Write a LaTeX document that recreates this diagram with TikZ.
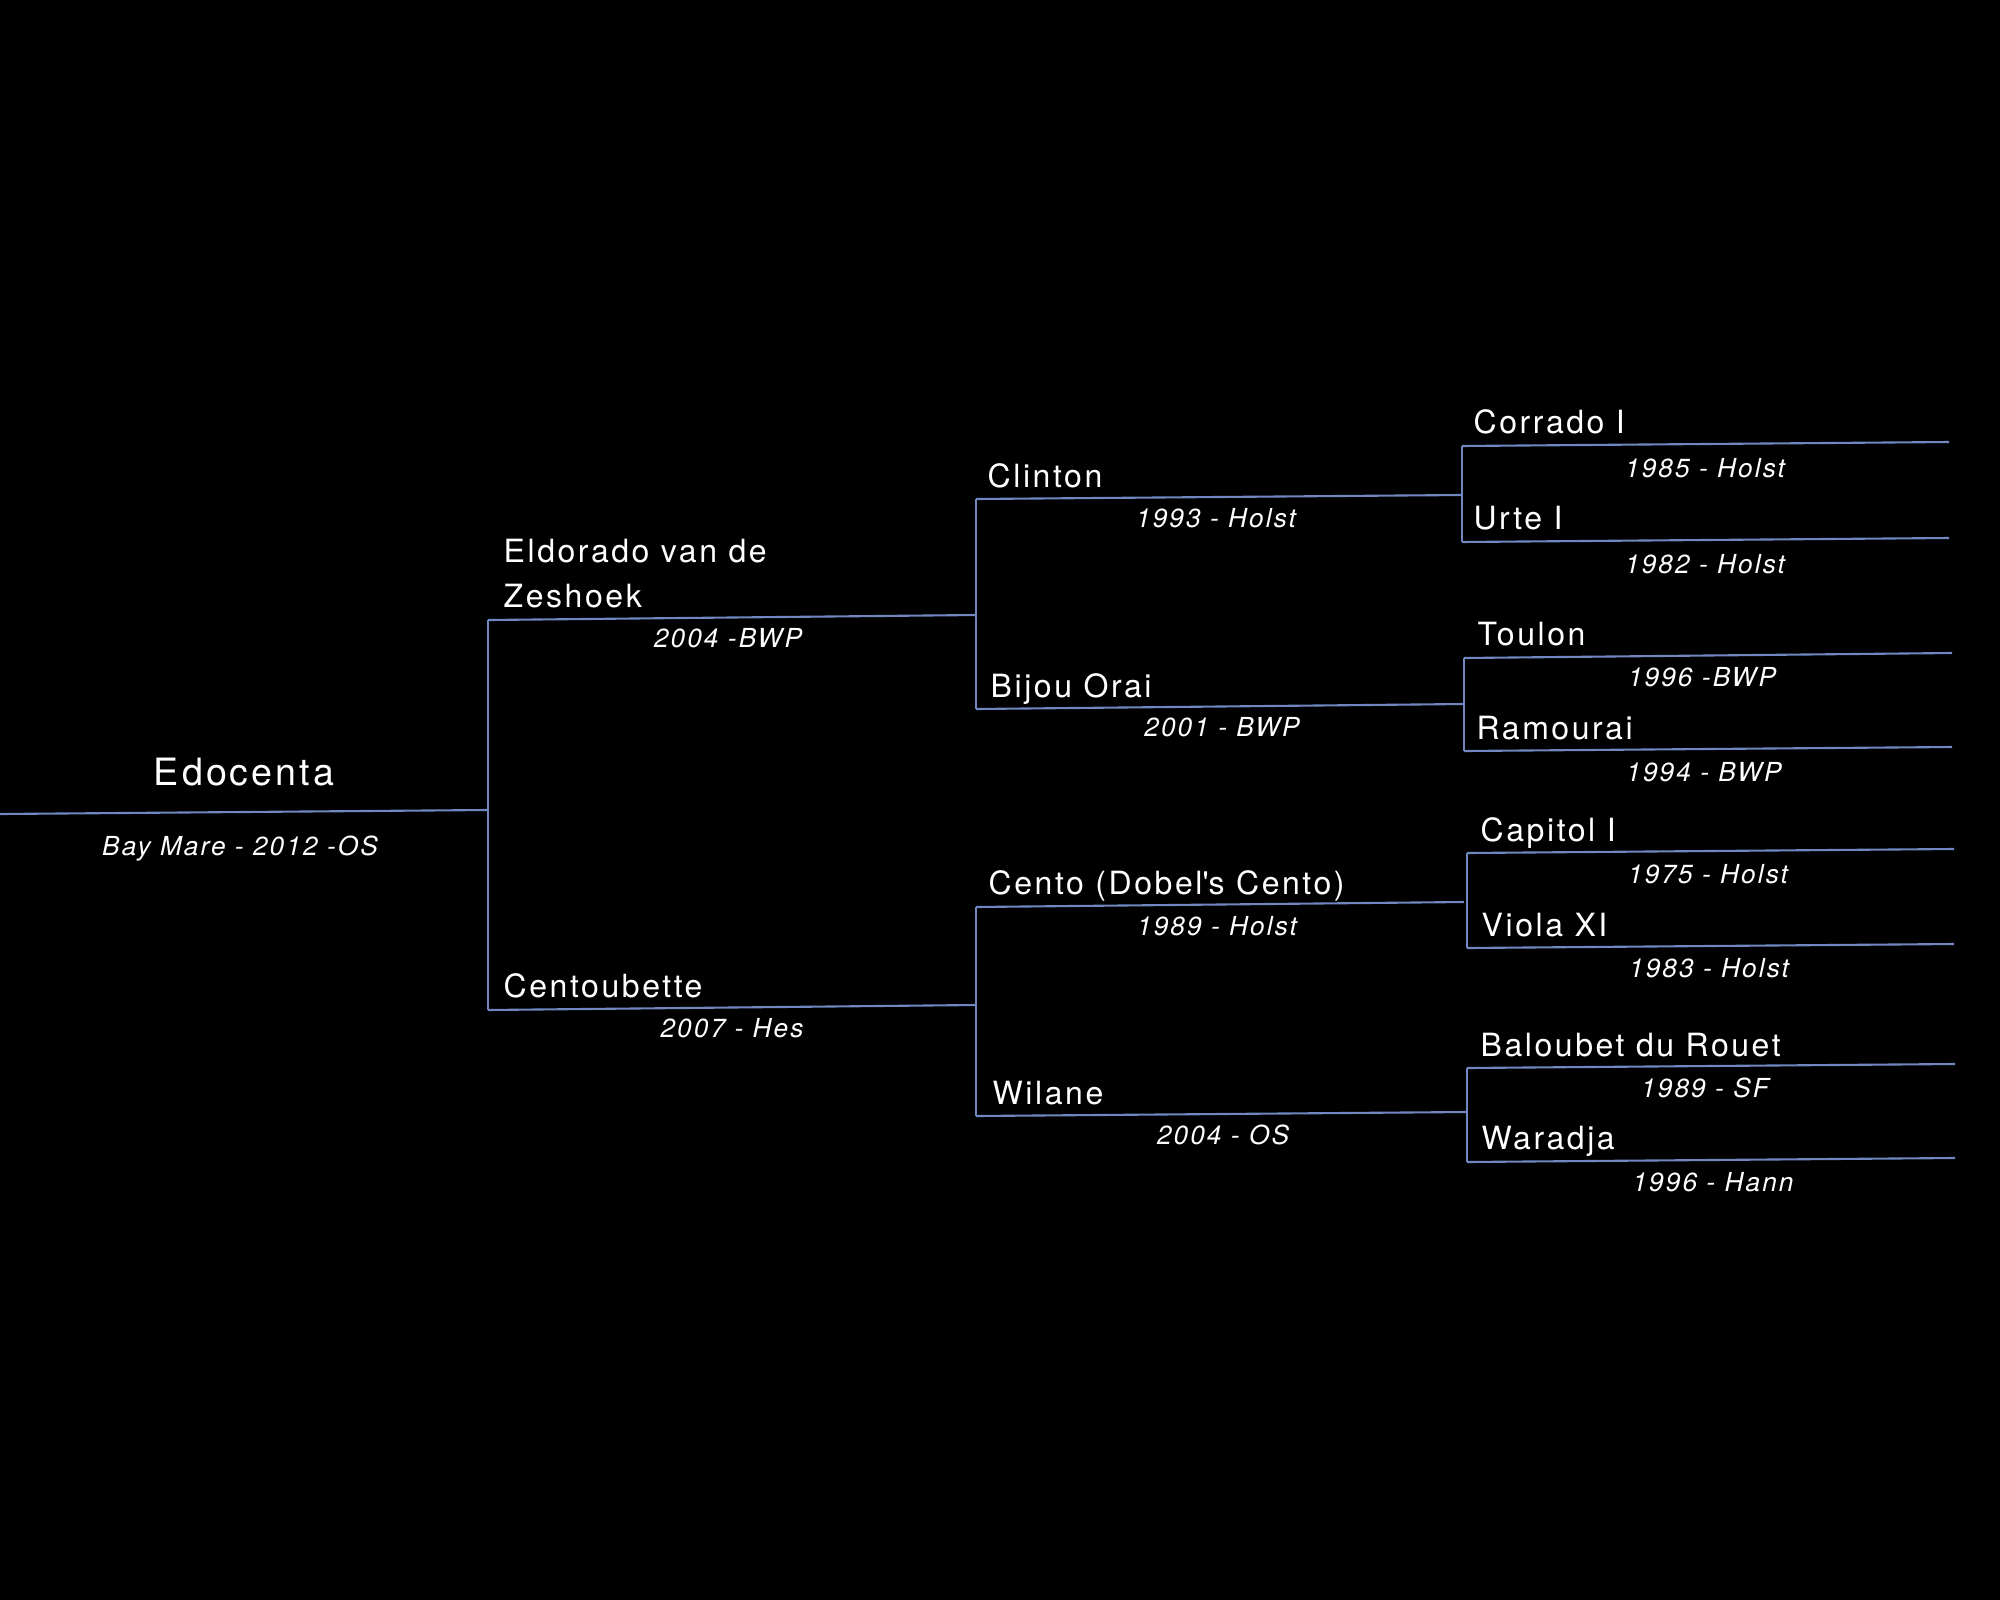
\documentclass[tikz,border=0pt]{standalone}
\usepackage{fontspec}
\setmainfont{TeX Gyre Heros}[LetterSpace=8]
\usetikzlibrary{positioning}
\definecolor{bg}{HTML}{000000}
\definecolor{branch}{HTML}{7088BF}
\definecolor{paper}{HTML}{FFFFFF}

\tikzset{
  horse/.style={anchor=mid west,inner sep=0pt,font=\fontsize{9.1}{10}\selectfont,color=paper},
  foal/.style={anchor=mid,inner sep=0pt,font=\fontsize{10.7}{12}\selectfont,color=paper},
  born/.style={anchor=mid,inner sep=0pt,font=\fontsize{7.45}{9}\selectfont\itshape,color=paper},
  line/.style={draw=branch,line width=0.6pt}
}

\begin{document}
\begin{tikzpicture}[x=0.01cm,y=-0.01cm]
      \fill[bg] (0,0) rectangle (2000,1600);
      \useasboundingbox (0,0) rectangle (2000,1600);
      % foal
      \coordinate (edoA) at (0,814);   \coordinate (edoB) at (488,810);
      \node[foal] (edo) at (244,776) {Edocenta};
      \node[born] (edoY) at (240,846) {Bay Mare - 2012 -OS};
      % sire and dam
      \coordinate (eldA) at (488,620);  \coordinate (eldB) at (976,615);
      \node[horse,align=left,font=\fontsize{9.1}{12.8}\selectfont] (eld) at (503,598) {Eldorado van de\\Zeshoek};
      \node[born] (eldY) at (728,638) {2004 -BWP};
      \coordinate (cenA) at (488,1010); \coordinate (cenB) at (976,1005);
      \node[horse] (cen) at (503,988) {Centoubette};
      \node[born] (cenY) at (732,1028) {2007 - Hes};
      % grandparents
      \coordinate (cliA) at (976,499);  \coordinate (cliB) at (1462,495);
      \node[horse] (cli) at (987,478) {Clinton};
      \node[born] (cliY) at (1216,518) {1993 - Holst};
      \coordinate (bijA) at (976,709);  \coordinate (bijB) at (1464,704);
      \node[horse] (bij) at (990,688) {Bijou Orai};
      \node[born] (bijY) at (1222,727) {2001 - BWP};
      \coordinate (ctoA) at (976,907);  \coordinate (ctoB) at (1464,902);
      \node[horse] (cto) at (988,885) {Cento (Dobel\textquotesingle s Cento)};
      \node[born] (ctoY) at (1217,926) {1989 - Holst};
      \coordinate (wilA) at (976,1116); \coordinate (wilB) at (1467,1112);
      \node[horse] (wil) at (992,1095) {Wilane};
      \node[born] (wilY) at (1223,1135) {2004 - OS};
      % great-grandparents
      \coordinate (corA) at (1462,446); \coordinate (corB) at (1949,442);
      \node[horse] (cor) at (1473,424) {Corrado I};
      \node[born] (corY) at (1705,468) {1985 - Holst};
      \coordinate (urtA) at (1462,542); \coordinate (urtB) at (1949,538);
      \node[horse] (urt) at (1473,520) {Urte I};
      \node[born] (urtY) at (1705,564) {1982 - Holst};
      \coordinate (touA) at (1464,658); \coordinate (touB) at (1952,653);
      \node[horse] (tou) at (1477,636) {Toulon};
      \node[born] (touY) at (1702,677) {1996 -BWP};
      \coordinate (ramA) at (1464,751); \coordinate (ramB) at (1952,747);
      \node[horse] (ram) at (1476,730) {Ramourai};
      \node[born] (ramY) at (1704,772) {1994 - BWP};
      \coordinate (capA) at (1467,853); \coordinate (capB) at (1954,849);
      \node[horse] (cap) at (1480,832) {Capitol I};
      \node[born] (capY) at (1708,874) {1975 - Holst};
      \coordinate (vioA) at (1467,948); \coordinate (vioB) at (1954,944);
      \node[horse] (vio) at (1481,927) {Viola XI};
      \node[born] (vioY) at (1709,968) {1983 - Holst};
      \coordinate (balA) at (1467,1068); \coordinate (balB) at (1955,1064);
      \node[horse] (bal) at (1480,1047) {Baloubet du Rouet};
      \node[born] (balY) at (1705,1088) {1989 - SF};
      \coordinate (warA) at (1467,1162); \coordinate (warB) at (1955,1158);
      \node[horse] (war) at (1481,1140) {Waradja};
      \node[born] (warY) at (1713,1182) {1996 - Hann};
      % underlines
      \foreach \h in {edo,eld,cen,cli,bij,cto,wil,cor,urt,tou,ram,cap,vio,bal,war}
        \draw[line] (\h A) -- (\h B);
      % brackets
      \draw[line] (eldA) -- (cenA);
      \draw[line] (cliA) -- (bijA);
      \draw[line] (ctoA) -- (wilA);
      \draw[line] (corA) -- (urtA);
      \draw[line] (touA) -- (ramA);
      \draw[line] (capA) -- (vioA);
      \draw[line] (balA) -- (warA);
\end{tikzpicture}
\end{document}
